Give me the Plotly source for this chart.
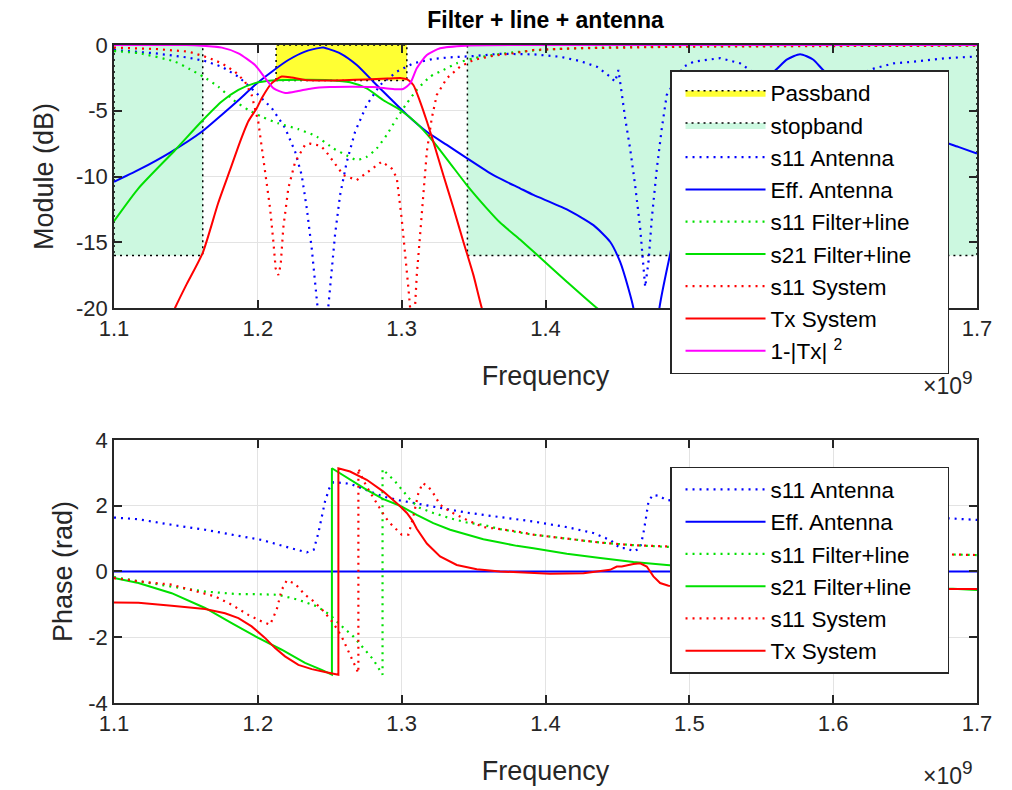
import plotly.graph_objects as go

# ---------------- band limits (frequency in GHz, level in dB) ----------------
pass_f = [1.2127, 1.3036]
pass_db = [-2.7, 0.0]
stop_lo_f = [1.1, 1.1617]
stop_hi_f = [1.3457, 1.7]
stop_db = [-16.0, 0.0]

# ---------------- module (dB) ----------------
s11_ant_f = [1.100, 1.1285, 1.1517, 1.1633, 1.1749, 1.1865, 1.198, 1.2097, 1.2189, 1.2259,
             1.2305, 1.234, 1.2375, 1.2398, 1.2414, 1.2452, 1.249, 1.2514, 1.2537, 1.2572,
             1.2618, 1.2676, 1.2757, 1.285, 1.2966, 1.3081, 1.322, 1.3337, 1.35, 1.3684,
             1.3916, 1.41, 1.424, 1.4357, 1.445, 1.4484, 1.4507, 1.453, 1.4554, 1.4588,
             1.4623, 1.4658, 1.4681, 1.4693, 1.4716, 1.4739, 1.4774, 1.4809, 1.4843, 1.496,
             1.503, 1.5214, 1.5353, 1.55, 1.563, 1.577, 1.59, 1.61, 1.628, 1.6417,
             1.656, 1.679, 1.70]
s11_ant_db = [-0.38, -0.63, -0.96, -1.22, -1.65, -2.41, -3.55, -4.8, -6.3, -8.1,
              -9.9, -12.4, -15.5, -18.25, -19.9, -24.0, -19.9, -17.0, -14.4, -11.4,
              -8.9, -6.6, -4.56, -3.04, -2.03, -1.39, -1.06, -0.94, -0.84, -0.67,
              -0.71, -0.89, -1.22, -1.65, -2.41, -2.79, -1.9, -3.67, -5.58, -7.86,
              -10.65, -13.9, -16.5, -18.4, -16.5, -13.2, -9.4, -6.3, -3.8, -1.65,
              -1.27, -1.0, -1.39, -2.5, -5.0, -8.0, -4.5, -2.6, -1.8, -1.4,
              -1.27, -1.0, -0.87]

eff_ant_f = [1.1, 1.117, 1.1401, 1.161, 1.175, 1.1865, 1.198, 1.2097, 1.2212, 1.2328,
             1.2444, 1.2456, 1.2572, 1.2688, 1.2803, 1.2919, 1.3036, 1.3175, 1.3314, 1.3453,
             1.3638, 1.3823, 1.3916, 1.4148, 1.4333, 1.4449, 1.4519, 1.4576, 1.4611, 1.470,
             1.4792, 1.4855, 1.495, 1.51, 1.53, 1.55, 1.56, 1.568, 1.577, 1.586,
             1.593, 1.61, 1.63, 1.65, 1.67, 1.687, 1.70]
eff_ant_db = [-10.4, -9.5, -8.1, -6.6, -5.3, -4.2, -3.04, -2.03, -1.14, -0.5,
              -0.2, -0.19, -0.63, -1.52, -2.79, -4.05, -5.3, -6.6, -7.6, -8.6,
              -9.9, -10.9, -11.4, -12.5, -13.7, -14.96, -16.5, -18.5, -20.0, -30.0,
              -20.0, -16.5, -12.0, -8.5, -5.0, -2.8, -1.9, -1.1, -0.7, -1.1,
              -1.9, -3.5, -5.0, -6.2, -7.1, -7.75, -8.25]

s11_fl_f = [1.1, 1.117, 1.1424, 1.1529, 1.1621, 1.1725, 1.183, 1.1934, 1.2027, 1.2143,
            1.2282, 1.241, 1.2525, 1.2618, 1.2688, 1.2757, 1.2827, 1.2896, 1.2966, 1.3036,
            1.3105, 1.3198, 1.329, 1.3383, 1.35, 1.3638, 1.3777, 1.40, 1.43, 1.47,
            1.52, 1.6, 1.7]
s11_fl_db = [-0.46, -0.62, -1.27, -1.85, -2.41, -3.17, -4.18, -4.94, -5.45, -5.96,
             -6.4, -6.97, -7.86, -8.4, -8.75, -8.5, -7.86, -6.84, -5.58, -4.43,
             -3.42, -2.41, -1.9, -1.39, -1.01, -0.76, -0.56, -0.35, -0.22, -0.14,
             -0.1, -0.07, -0.05]

s21_fl_f = [1.1, 1.117, 1.1424, 1.161, 1.1749, 1.1865, 1.198, 1.2097, 1.23, 1.25,
            1.264, 1.2757, 1.2873, 1.299, 1.3105, 1.322, 1.3337, 1.3453, 1.359, 1.3684,
            1.3823, 1.3916, 1.4148, 1.4357, 1.46, 1.5]
s21_fl_db = [-13.4, -10.9, -8.0, -5.8, -4.3, -3.42, -2.9, -2.7, -2.65, -2.68,
             -2.83, -3.3, -4.2, -4.94, -5.96, -7.35, -9.0, -10.65, -12.4, -13.5,
             -14.8, -15.7, -18.0, -20.0, -22.0, -25.5]

s11_sys_f = [1.1, 1.1285, 1.1517, 1.1656, 1.1749, 1.1841, 1.1911, 1.1957, 1.2003, 1.205,
             1.2085, 1.2108, 1.2124, 1.2143, 1.2159, 1.2177, 1.2212, 1.2259, 1.2328, 1.2363,
             1.2433, 1.2467, 1.2525, 1.2595, 1.2688, 1.278, 1.2862, 1.2931, 1.2966, 1.3,
             1.3024, 1.3047, 1.3058, 1.3075, 1.3093, 1.3105, 1.3128, 1.3151, 1.3175, 1.3209,
             1.3244, 1.3314, 1.3406, 1.35, 1.3638, 1.3777, 1.3916, 1.42, 1.45, 1.5,
             1.6, 1.7]
s11_sys_db = [-0.2, -0.3, -0.5, -0.96, -1.39, -2.03, -2.79, -3.8, -5.83, -9.38,
              -12.4, -14.96, -17.0, -17.5, -16.7, -13.9, -10.9, -8.9, -7.6, -7.5,
              -7.65, -8.0, -8.87, -9.9, -10.27, -9.5, -8.87, -9.4, -10.1, -13.2,
              -15.7, -18.5, -19.9, -24.0, -19.9, -17.5, -14.45, -11.4, -8.1, -5.58,
              -3.8, -2.53, -1.65, -1.14, -0.81, -0.63, -0.38, -0.25, -0.18, -0.12,
              -0.08, -0.05]

tx_sys_f = [1.1, 1.13, 1.1424, 1.15, 1.1617, 1.1725, 1.1807, 1.1875, 1.1934, 1.1993,
            1.2027, 1.2097, 1.2166, 1.2236, 1.2328, 1.2467, 1.26, 1.275, 1.29, 1.3,
            1.3036, 1.3081, 1.3128, 1.3175, 1.322, 1.329, 1.336, 1.343, 1.3499, 1.3557,
            1.37, 1.4, 1.5, 1.7]
tx_sys_db = [-30.0, -23.0, -20.0, -18.3, -15.8, -12.0, -9.5, -7.4, -5.8, -4.8,
             -4.05, -2.9, -2.4, -2.48, -2.66, -2.7, -2.68, -2.62, -2.55, -2.52,
             -2.6, -3.04, -4.3, -5.8, -7.35, -9.9, -12.4, -15.0, -17.5, -20.0,
             -25.0, -35.0, -60.0, -90.0]

one_m_tx_f = [1.1, 1.15, 1.161, 1.175, 1.1865, 1.198, 1.205, 1.211, 1.219, 1.228,
              1.2375, 1.25, 1.264, 1.28, 1.294, 1.301, 1.306, 1.3105, 1.3175, 1.3267,
              1.345, 1.4, 1.7]
one_m_tx_db = [0.0, 0.0, -0.05, -0.2, -0.63, -1.52, -2.5, -3.3, -3.65, -3.5,
               -3.3, -3.2, -3.17, -3.2, -3.35, -3.35, -2.9, -1.77, -0.76, -0.25,
               -0.05, 0.0, 0.0]

# ---------------- phase (rad) ----------------
ph_s11_ant_f = [1.1, 1.117, 1.1401, 1.1633, 1.1865, 1.2027, 1.2189, 1.234, 1.2388, 1.2421,
                1.2445, 1.2467, 1.2497, 1.2525, 1.2641, 1.2757, 1.2873, 1.2989, 1.3105, 1.322,
                1.3337, 1.3453, 1.3568, 1.3684, 1.38, 1.3916, 1.4148, 1.4333, 1.4449, 1.4519,
                1.4565, 1.4611, 1.4658, 1.4681, 1.47, 1.4716, 1.4746, 1.4792, 1.4836, 1.52,
                1.55, 1.573, 1.6, 1.65, 1.679, 1.7]
ph_s11_ant = [1.64, 1.59, 1.42, 1.27, 1.085, 0.96, 0.76, 0.58, 0.66, 1.17,
              1.67, 2.13, 2.53, 2.72, 2.67, 2.48, 2.28, 2.16, 2.06, 1.96,
              1.88, 1.79, 1.72, 1.66, 1.59, 1.52, 1.35, 1.17, 0.96, 0.71,
              0.71, 0.61, 0.71, 1.17, 1.67, 2.13, 2.33, 2.3, 2.18, 2.0,
              1.9, 1.8, 1.75, 1.65, 1.62, 1.57]

ph_eff_f = [1.1, 1.7]
ph_eff = [0.0, 0.0]

ph_s11_fl_f = [1.1, 1.117, 1.1401, 1.1633, 1.1865, 1.2003, 1.2143, 1.2282, 1.241, 1.2503,
               1.2572, 1.2665, 1.2734, 1.2803, 1.2867, 1.2867, 1.2908, 1.2954, 1.3013, 1.307,
               1.3128, 1.322, 1.3337, 1.3453, 1.3568, 1.3684, 1.38, 1.3916, 1.4148, 1.438,
               1.4611, 1.4843, 1.55, 1.62, 1.7]
ph_s11_fl = [-0.17, -0.30, -0.46, -0.61, -0.69, -0.69, -0.71, -0.86, -1.06, -1.32,
             -1.62, -1.98, -2.33, -2.68, -3.14, 3.11, 2.94, 2.74, 2.43, 2.13,
             1.93, 1.78, 1.62, 1.49, 1.42, 1.29, 1.2, 1.12, 1.0, 0.88,
             0.8, 0.75, 0.65, 0.57, 0.5]

ph_s21_fl_f = [1.1, 1.117, 1.1401, 1.1633, 1.1818, 1.2003, 1.2166, 1.2328, 1.2444, 1.2515,
               1.2515, 1.2641, 1.2757, 1.2873, 1.2989, 1.3105, 1.322, 1.3337, 1.3453, 1.3568,
               1.3684, 1.38, 1.3916, 1.4148, 1.438, 1.4611, 1.4843, 1.55, 1.6, 1.65,
               1.68, 1.7]
ph_s21_fl = [-0.2, -0.35, -0.66, -1.11, -1.57, -2.02, -2.38, -2.78, -2.99, -3.14,
             3.14, 2.79, 2.48, 2.2, 2.0, 1.72, 1.47, 1.27, 1.12, 0.98,
             0.88, 0.78, 0.71, 0.54, 0.41, 0.29, 0.2, -0.05, -0.24, -0.42,
             -0.52, -0.56]

ph_s11_sys_f = [1.1, 1.117, 1.1401, 1.1587, 1.1703, 1.1818, 1.1934, 1.2027, 1.2085, 1.2131,
                1.2166, 1.2201, 1.2259, 1.2328, 1.2386, 1.2456, 1.2525, 1.2583, 1.2629, 1.2676,
                1.2699, 1.2699, 1.2722, 1.2757, 1.2803, 1.2862, 1.2908, 1.2966, 1.3, 1.3047,
                1.3081, 1.3116, 1.3146, 1.3185, 1.322, 1.3267, 1.3337, 1.3453, 1.3568, 1.3684,
                1.38, 1.3916, 1.4148, 1.438, 1.4611, 1.4843, 1.55, 1.62, 1.7]
ph_s11_sys = [-0.2, -0.3, -0.40, -0.61, -0.76, -1.01, -1.32, -1.52, -1.62, -1.16,
              -0.56, -0.27, -0.37, -0.71, -0.9, -1.2, -1.57, -1.98, -2.43, -2.89,
              -3.09, 3.14, 2.89, 2.58, 2.23, 1.82, 1.52, 1.27, 1.12, 1.12,
              1.67, 2.38, 2.69, 2.58, 2.38, 2.03, 1.82, 1.57, 1.35, 1.29,
              1.22, 1.12, 1.0, 0.88, 0.8, 0.76, 0.66, 0.58, 0.5]

ph_tx_f = [1.1, 1.117, 1.1401, 1.1633, 1.1772, 1.1865, 1.1957, 1.205, 1.212, 1.2189,
           1.2282, 1.2375, 1.2467, 1.256, 1.256, 1.2641, 1.2757, 1.2873, 1.2966, 1.3036,
           1.3075, 1.3105, 1.3175, 1.3267, 1.3383, 1.3522, 1.3684, 1.3823, 1.4032, 1.4264,
           1.4449, 1.4496, 1.453, 1.4611, 1.4658, 1.4704, 1.475, 1.4797, 1.4855, 1.52,
           1.6, 1.68, 1.7]
ph_tx = [-0.94, -0.95, -1.04, -1.14, -1.27, -1.42, -1.67, -2.02, -2.33, -2.58,
         -2.84, -2.97, -3.06, -3.14, 3.14, 3.04, 2.79, 2.43, 2.08, 1.78,
         1.55, 1.3, 0.85, 0.46, 0.2, 0.07, 0.0, -0.03, -0.07, -0.05,
         0.05, 0.15, 0.15, 0.23, 0.25, 0.15, -0.15, -0.35, -0.43, -0.48,
         -0.52, -0.53, -0.53]

x_ticks = [1.1, 1.2, 1.3, 1.4, 1.5, 1.6, 1.7]
x_tick_text = ["1.1", "1.2", "1.3", "1.4", "1.5", "1.6", "1.7"]
y1_ticks = [-20, -15, -10, -5, 0]
y1_tick_text = ["-20", "-15", "-10", "-5", "0"]
y2_ticks = [-4, -2, 0, 2, 4]
y2_tick_text = ["-4", "-2", "0", "2", "4"]

# ---------------- styling ----------------
BLUE = "#0000ff"
GREEN = "#00e000"
RED = "#ff0000"
MAGENTA = "#ff00ff"
DOT = "2px,5px"
FONT = "Liberation Sans, Arial, Helvetica, sans-serif"
AX = "#262626"
PAD = "\u00a0" * 5   # widens the legend box to the reference size


def rect(f, d):
    return ([f[0], f[1], f[1], f[0], f[0]], [d[0], d[0], d[1], d[1], d[0]])


def line_style(color, dash, smooth):
    st = dict(color=color, width=2.2 if dash == DOT else 2, dash=dash)
    if smooth:
        st.update(shape="spline", smoothing=0.6)
    return st


fig = go.Figure()

px_, py_ = rect(pass_f, pass_db)
fig.add_trace(go.Scatter(x=px_, y=py_, fill="toself", fillcolor="#ffff33", mode="lines",
                         line=dict(color="black", width=1.5, dash="2px,4px"),
                         name="Passband", legend="legend"))
sx1, sy1 = rect(stop_lo_f, stop_db)
sx2, sy2 = rect(stop_hi_f, stop_db)
fig.add_trace(go.Scatter(x=sx1 + [None] + sx2, y=sy1 + [None] + sy2, fill="toself",
                         fillcolor="#ccf8e0", mode="lines",
                         line=dict(color="black", width=1.5, dash="2px,4px"),
                         name="stopband", legend="legend"))

top = [
    (s11_ant_f, s11_ant_db, BLUE, DOT, "s11 Antenna", False),
    (eff_ant_f, eff_ant_db, BLUE, "solid", "Eff. Antenna", True),
    (s11_fl_f, s11_fl_db, GREEN, DOT, "s11 Filter+line", True),
    (s21_fl_f, s21_fl_db, GREEN, "solid", "s21 Filter+line" + PAD, True),
    (s11_sys_f, s11_sys_db, RED, DOT, "s11 System", False),
    (tx_sys_f, tx_sys_db, RED, "solid", "Tx System", True),
    (one_m_tx_f, one_m_tx_db, MAGENTA, "solid", "1-|Tx| <sup>2</sup>", True),
]
for f, v, c, d, n, sm in top:
    fig.add_trace(go.Scatter(x=f, y=v, mode="lines", name=n,
                             line=line_style(c, d, sm), legend="legend"))

bottom = [
    (ph_s11_ant_f, ph_s11_ant, BLUE, DOT, "s11 Antenna"),
    (ph_eff_f, ph_eff, BLUE, "solid", "Eff. Antenna"),
    (ph_s11_fl_f, ph_s11_fl, GREEN, DOT, "s11 Filter+line"),
    (ph_s21_fl_f, ph_s21_fl, GREEN, "solid", "s21 Filter+line" + PAD),
    (ph_s11_sys_f, ph_s11_sys, RED, DOT, "s11 System"),
    (ph_tx_f, ph_tx, RED, "solid", "Tx System"),
]
for f, v, c, d, n in bottom:
    fig.add_trace(go.Scatter(x=f, y=v, mode="lines", name=n, xaxis="x2", yaxis="y2",
                             line=line_style(c, d, False), legend="legend2"))

axis_common = dict(showgrid=True, gridcolor="#e3e3e3", gridwidth=1, zeroline=False,
                   showline=True, linecolor=AX, linewidth=1.5, mirror="ticks",
                   ticks="inside", ticklen=8, tickwidth=1.5, tickcolor=AX,
                   tickfont=dict(family=FONT, size=22, color=AX))

legend_common = dict(x=0.6443, xanchor="left", yanchor="top", bgcolor="white",
                     bordercolor=AX, borderwidth=1.5,
                     font=dict(family=FONT, size=22.5, color="black"),
                     itemwidth=80, indentation=9, tracegroupgap=0, traceorder="normal")

TITLE_FONT = dict(family=FONT, size=27, color=AX)
EXP_TEXT = "×10<sup><span style='font-size:19px'>9</span></sup>"

fig.update_layout(
    width=1012, height=790,
    margin=dict(l=106, r=43, t=37, b=95),
    paper_bgcolor="white", plot_bgcolor="white",
    font=dict(family=FONT, color=AX),
    title=dict(text="<b>Filter + line + antenna</b>", x=0.5, xref="paper", xanchor="center",
               y=1 - 12 / 790, yanchor="middle", font=dict(family=FONT, size=23, color="black")),
    xaxis=dict(domain=[0, 1], anchor="y", range=[1.1, 1.7], tickvals=x_ticks, ticktext=x_tick_text,
               title=dict(text="Frequency", font=TITLE_FONT, standoff=26), **axis_common),
    yaxis=dict(domain=[0.6003, 1], anchor="x", range=[-20, 0], tickvals=y1_ticks,
               ticktext=y1_tick_text,
               title=dict(text="Module (dB)", font=TITLE_FONT, standoff=15), **axis_common),
    xaxis2=dict(domain=[0, 1], anchor="y2", range=[1.1, 1.7], tickvals=x_ticks, ticktext=x_tick_text,
                title=dict(text="Frequency", font=TITLE_FONT, standoff=26), **axis_common),
    yaxis2=dict(domain=[0, 0.3997], anchor="x2", range=[-4, 4], tickvals=y2_ticks,
                ticktext=y2_tick_text,
                title=dict(text="Phase (rad)", font=TITLE_FONT, standoff=8), **axis_common),
    legend=dict(y=0.962, **legend_common),
    legend2=dict(y=0.359, **legend_common),
    annotations=[
        dict(text=EXP_TEXT, xref="paper", yref="paper", x=0.998, y=0.4868,
             xanchor="right", yanchor="middle", showarrow=False,
             font=dict(family=FONT, size=23, color=AX)),
        dict(text=EXP_TEXT, xref="paper", yref="paper", x=0.998, y=-0.106,
             xanchor="right", yanchor="middle", showarrow=False,
             font=dict(family=FONT, size=23, color=AX)),
    ],
)

fig.write_html("out.html")
